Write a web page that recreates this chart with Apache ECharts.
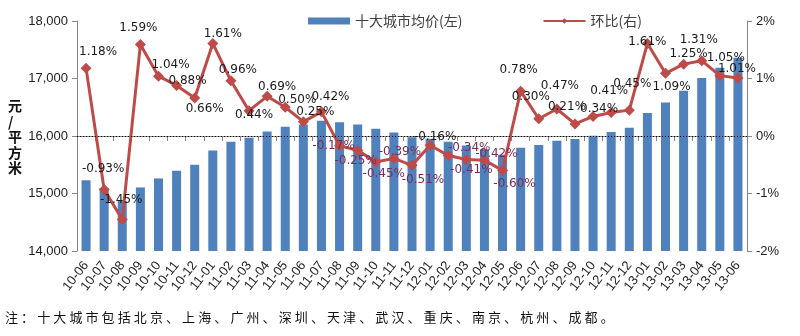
<!DOCTYPE html>
<html>
<head>
<meta charset="utf-8">
<script src="https://cdn.jsdelivr.net/npm/echarts@6/dist/echarts.min.js"></script>
<style>
  html, body { margin: 0; padding: 0; background: #fff; }
  #chart { width: 800px; height: 336px; }
</style>
</head>
<body>
<div id="chart"></div>
<script>
// Month labels (yy-mm)
const categories = [
  '10-06','10-07','10-08','10-09','10-10','10-11','10-12',
  '11-01','11-02','11-03','11-04','11-05','11-06','11-07','11-08','11-09','11-10','11-11','11-12',
  '12-01','12-02','12-03','12-04','12-05','12-06','12-07','12-08','12-09','12-10','12-11','12-12',
  '13-01','13-02','13-03','13-04','13-05','13-06'
];

// Average price of the ten cities, yuan per square metre (left axis)
const avgPrice = [
  15230, 15088, 14869, 15105, 15262, 15396, 15498,
  15748, 15899, 15969, 16079, 16159, 16199, 16267, 16239, 16198, 16125, 16062, 15980,
  15954, 15900, 15835, 15768, 15673, 15795, 15842, 15916, 15950, 16004, 16070, 16142,
  16402, 16581, 16788, 17008, 17187, 17361
];

// Month-on-month change, percent (right axis)
const momChange = [
  1.18, -0.93, -1.45, 1.59, 1.04, 0.88, 0.66,
  1.61, 0.96, 0.44, 0.69, 0.50, 0.25, 0.42, -0.17, -0.25, -0.45, -0.39, -0.51,
  -0.16, -0.34, -0.41, -0.42, -0.60, 0.78, 0.30, 0.47, 0.21, 0.34, 0.41, 0.45,
  1.61, 1.09, 1.25, 1.31, 1.05, 1.01
];

// Right axis tick labels
const rightTicks = ['-2%', '-1%', '0%', '1%', '2%'];

const footnote = '注：十大城市包括北京、上海、广州、深圳、天津、武汉、重庆、南京、杭州、成都。';

// Placement of each value label relative to its marker centre [dx, dy]
const labelOffsets = [
  [12,-16],[-1,-21],[-1,-20],[-2,-17],[12,-11],[11,-5],[10,11],
  [10,-10],[7,-11],[5,4],[10,-9],[12,-7],[12,-10],[9,-15],[-6,0],[-2,10],[8,12],[6,-7],[11,15],
  [5,-8],[21,-8],[5,10],[12,-6],[12,13],[-2,-21],[-8,-22],[3,-23],[-8,-17],[6,-8],[-2,-22],[3,-26],
  [0,-2],[6,14],[5,-10],[-3,-21],[6,-18],[-1,-9]
];

const LINE_RED = '#BE4B48';
const BAR_BLUE = '#4F81BD';
const NEG_LABEL = '#7A2C58';

const lineData = momChange.map((v, i) => {
  const dark = v >= 0 || i <= 2 || i === 19;
  return {
    value: v,
    label: {
      offset: labelOffsets[i],
      color: dark ? '#1a1a1a' : NEG_LABEL
    }
  };
});

// Footnote drawn glyph by glyph to reproduce its wide character spacing
const footChildren = Array.from(footnote).map((ch, i) => ({
  type: 'text',
  left: 5 + i * 16.1,
  top: 311,
  style: {
    text: ch,
    font: '13px "Noto Sans CJK SC"',
    fill: '#111'
  }
}));

const chart = echarts.init(document.getElementById('chart'), null, { renderer: 'canvas' });

chart.setOption({
  animation: false,
  backgroundColor: '#ffffff',
  textStyle: { fontFamily: '"Liberation Sans", "Noto Sans CJK SC", sans-serif' },
  grid: { left: 77, right: 53, top: 21, bottom: 85, containLabel: false, outerBoundsMode: 'none' },
  legend: {
    top: 9,
    left: 303,
    itemGap: 80,
    itemWidth: 42,
    itemHeight: 7,
    textStyle: { fontSize: 14, color: '#404040', fontFamily: '"Noto Sans CJK SC", sans-serif' },
    data: [
      { name: '十大城市均价(左)', icon: 'rect' },
      { name: '环比(右)' }
    ]
  },
  xAxis: {
    type: 'category',
    data: categories,
    boundaryGap: true,
    axisLine: { lineStyle: { color: '#868686', width: 1 } },
    axisTick: { show: true, alignWithLabel: false, length: 5, lineStyle: { color: '#868686' } },
    axisLabel: {
      interval: 0,
      rotate: 52,
      fontSize: 13,
      color: '#222',
      margin: 12
    }
  },
  yAxis: [
    {
      type: 'value',
      min: 14000,
      max: 18000,
      interval: 1000,
      splitLine: { show: false },
      axisLine: { show: true, lineStyle: { color: '#868686' } },
      axisTick: { show: true, length: 5, lineStyle: { color: '#868686' } },
      axisLabel: { fontSize: 13, color: '#222', margin: 9 }
    },
    {
      type: 'value',
      min: -2,
      max: 2,
      interval: 1,
      position: 'right',
      splitLine: { show: false },
      axisLine: { show: true, lineStyle: { color: '#868686' } },
      axisTick: { show: true, length: 5, lineStyle: { color: '#868686' } },
      axisLabel: {
        fontSize: 13,
        color: '#222',
        margin: 9,
        formatter: v => rightTicks[Math.round(v) + 2]
      }
    }
  ],
  graphic: [
    {
      type: 'text',
      left: 8,
      top: 98,
      style: {
        text: '元\n/\n平\n方\n米',
        font: 'bold 14px "Noto Sans CJK SC"',
        lineHeight: 15.5,
        align: 'center',
        fill: '#111'
      }
    },
    { type: 'group', children: footChildren }
  ],
  series: [
    {
      name: '十大城市均价(左)',
      type: 'bar',
      yAxisIndex: 0,
      data: avgPrice,
      barWidth: 9,
      itemStyle: { color: BAR_BLUE },
      z: 2
    },
    {
      name: '环比(右)',
      type: 'line',
      yAxisIndex: 1,
      data: lineData,
      symbol: 'diamond',
      symbolSize: 11,
      lineStyle: { color: LINE_RED, width: 3 },
      itemStyle: { color: LINE_RED },
      label: {
        show: true,
        position: 'inside',
        align: 'center',
        verticalAlign: 'middle',
        fontSize: 12,
        fontFamily: '"DejaVu Sans", sans-serif',
        formatter: p => p.value.toFixed(2) + '%'
      },
      markLine: {
        silent: true,
        symbol: 'none',
        label: { show: false },
        lineStyle: { color: '#000', type: [1, 2], width: 1 },
        data: [{ yAxis: 0 }]
      },
      z: 3
    }
  ]
});
</script>
</body>
</html>
